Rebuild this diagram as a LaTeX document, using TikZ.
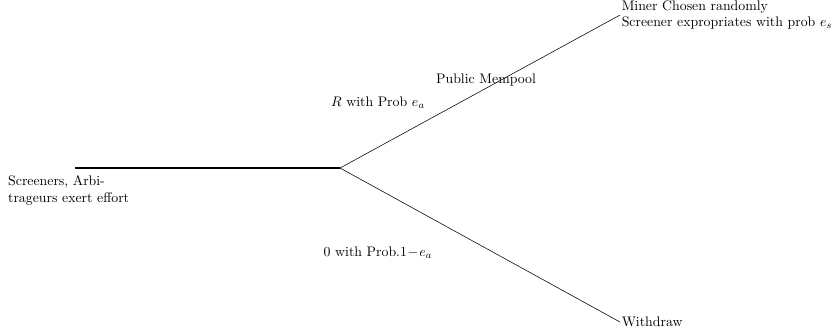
\documentclass[tikz,border=0pt]{standalone}
\usepackage{amsmath, amssymb}
\usepackage{tikz}
\usetikzlibrary{positioning}

\begin{document}
\begin{tikzpicture}[lbl/.style={inner sep=2pt}]
    \useasboundingbox (0, 0) rectangle (21.13, 8.509);

    % 树的节点
    \coordinate (root) at (1.905, 4.242);
    \coordinate (pool) at (8.636, 4.242);
    \coordinate (miner) at (15.748, 8.128);
    \coordinate (wd) at (15.748, 0.33);

    % 分支
    \draw[thick] (root) -- (pool);
    \draw (pool) -- (miner);
    \draw (pool) -- (wd);

    % 标签
    \node[lbl, anchor=north west, align=left] (effort) at (0.13, 4.115)
        {Screeners, Arbi-\\trageurs exert effort};
    \node[lbl, inner sep=1pt, right=0pt of miner, align=left] (chosen)
        {Miner Chosen randomly\\Screener expropriates with prob $e_s$};
    \node[lbl, inner sep=1pt, right=0pt of wd] (withdraw) {Withdraw};
    \node[lbl] (mempool) at (12.344, 6.477) {Public Mempool};
    \node[lbl] (up) at (9.601, 5.893) {$R$ with Prob $e_a$};
    \node[lbl] (down) at (9.601, 2.083) {0 with Prob.$1\!-\!e_a$};
\end{tikzpicture}
\end{document}
